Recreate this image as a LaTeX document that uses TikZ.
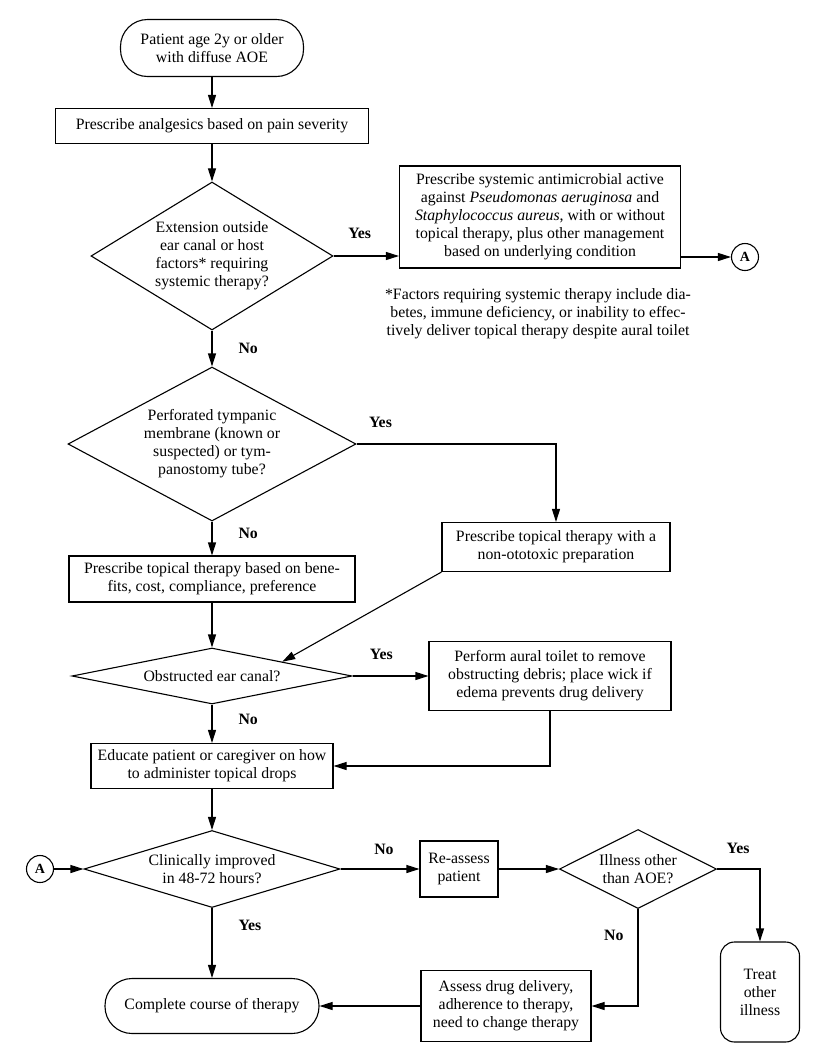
\documentclass[tikz,border=0pt]{standalone}
\usepackage{fontspec}
\setmainfont{Liberation Serif}
\usetikzlibrary{arrows.meta, shapes.geometric, positioning}

\begin{document}
\begin{tikzpicture}[
    x=1pt, y=-1pt,
    font=\fontsize{15.8}{18}\selectfont,
    line width=1.1pt,
    box/.style={
        rectangle,
        draw,
        align=center,
        inner sep=0pt
    },
    terminal/.style={
        rectangle,
        rounded corners=#1,
        draw,
        align=center,
        inner sep=0pt
    },
    decision/.style={
        diamond,
        aspect=#1,
        draw,
        align=center,
        inner sep=0pt
    },
    connector/.style={
        circle,
        draw,
        minimum size=27pt,
        inner sep=0pt,
        font=\fontsize{14}{14}\selectfont\bfseries
    },
    arrow/.style={
        -{Triangle[length=13pt, width=8pt]}
    },
    answer/.style={
        font=\fontsize{15.8}{18}\selectfont\bfseries,
        inner sep=0pt
    },
    note/.style={
        align=center,
        inner sep=0pt
    }
]

\useasboundingbox (0,0) rectangle (818,1050);

% Main column
\node[terminal=27pt, minimum width=183pt, minimum height=57pt] (start) at (212,48) {Patient age 2y or older\\with diffuse AOE};
\node[box, minimum width=313pt, minimum height=35pt] (analgesic) at (212,126) {Prescribe analgesics based on pain severity};
\node[decision=1.64, minimum width=242pt, minimum height=148pt] (extension) at (212,256) {Extension outside\\ear canal or host\\factors* requiring\\systemic therapy?};
\node[decision=1.87, minimum width=288pt, minimum height=154pt] (perforated) at (212,444) {Perforated tympanic\\membrane (known or\\suspected) or tym-\\panostomy tube?};
\node[box, minimum width=286pt, minimum height=46pt] (topical) at (212,579) {Prescribe topical therapy based on bene-\\fits, cost, compliance, preference};
\node[decision=5, minimum width=280pt, minimum height=56pt] (obstructed) at (212,676) {Obstructed ear canal?};
\node[box, minimum width=242pt, minimum height=45pt] (educate) at (212,766) {Educate patient or caregiver on how\\to administer topical drops};
\node[decision=3.3, minimum width=256pt, minimum height=77pt] (improved) at (212,869) {Clinically improved\\in 48-72 hours?};
\node[terminal=27pt, minimum width=214pt, minimum height=55pt] (complete) at (212,1006) {Complete course of therapy};

% Right-hand branches
\node[box, minimum width=281pt, minimum height=102pt] (systemic) at (540,217) {Prescribe systemic antimicrobial active\\against \textit{Pseudomonas aeruginosa} and\\\textit{Staphylococcus aureus}, with or without\\topical therapy, plus other management\\based on underlying condition};
\node[connector] (goA) at (745,257) {A};
\node[note] (factors) at (538,314) {*Factors requiring systemic therapy include dia-\\betes, immune deficiency, or inability to effec-\\tively deliver topical therapy despite aural toilet};
\node[box, minimum width=228pt, minimum height=49pt] (nonototoxic) at (556,547) {Prescribe topical therapy with a\\non-ototoxic preparation};
\node[box, minimum width=242pt, minimum height=69pt] (toilet) at (550,676) {Perform aural toilet to remove\\obstructing debris; place wick if\\edema prevents drug delivery};

% Follow-up row
\node[connector] (fromA) at (40,869) {A};
\node[box, minimum width=78pt, minimum height=56pt] (reassess) at (459,869) {Re-assess\\patient};
\node[decision=2, minimum width=157pt, minimum height=79pt] (illness) at (638,869) {Illness other\\than AOE?};
\node[terminal=14pt, minimum width=79pt, minimum height=100pt] (treat) at (760,992) {Treat\\other\\illness};
\node[box, minimum width=170pt, minimum height=71pt] (assessdrug) at (506,1006) {Assess drug delivery,\\adherence to therapy,\\need to change therapy};

% Arrows with answers
\draw[arrow] (start) -- (analgesic);
\draw[arrow] (analgesic) -- (extension);
\draw[arrow] (extension.east) -- node[answer, above=17pt, pos=0.4] (yes1) {Yes} (systemic.west |- extension.east);
\draw[arrow] (systemic.east |- goA) -- (goA);
\draw[arrow] (extension) -- node[answer, right=26pt] (no1) {No} (perforated);
\draw[arrow] (perforated.east) -| node[answer, above=16pt, pos=0.06] (yes2) {Yes} (nonototoxic.north);
\draw[arrow] (perforated) -- node[answer, right=26pt, pos=0.34] (no2) {No} (topical);
\draw[arrow] (topical) -- (obstructed);
\draw[arrow] (nonototoxic.south west) -- (obstructed.north east);
\draw[arrow] (obstructed) -- node[answer, above=16pt, pos=0.38] (yes3) {Yes} (toilet);
\draw[arrow] (obstructed) -- node[answer, right=26pt, pos=0.38] (no3) {No} (educate);
\draw[arrow] (toilet.south) |- (educate.east);
\draw[arrow] (educate) -- (improved);
\draw[arrow] (fromA) -- (improved);
\draw[arrow] (improved) -- node[answer, above=14pt, pos=0.55] (no4) {No} (reassess);
\draw[arrow] (improved) -- node[answer, right=26pt, pos=0.25] (yes4) {Yes} (complete);
\draw[arrow] (reassess) -- (illness);
\draw[arrow] (illness.east) -| node[answer, above=15pt, pos=0.245] (yes5) {Yes} (treat.north);
\draw[arrow] (illness.south) |- node[answer, left=14pt, pos=0.134] (no5) {No} (assessdrug.east);
\draw[arrow] (assessdrug) -- (complete);

\end{tikzpicture}
\end{document}
